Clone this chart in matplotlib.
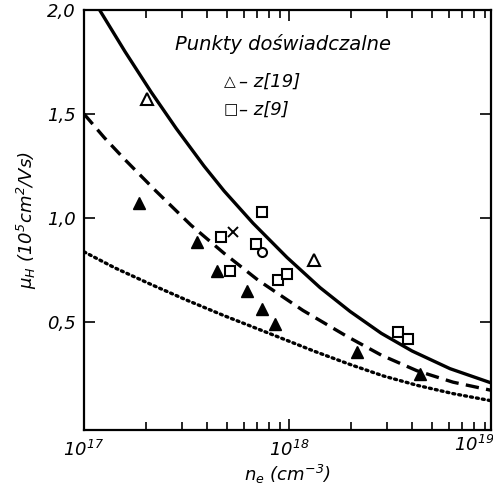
import numpy as np
import matplotlib
matplotlib.use("Agg")
import matplotlib.pyplot as plt
from matplotlib.ticker import FixedLocator, FuncFormatter, LogLocator, NullFormatter

plt.rcParams["font.family"] = ["DejaVu Sans"]
plt.rcParams["font.style"] = "italic"
plt.rcParams["mathtext.fontset"] = "dejavusans"
plt.rcParams["mathtext.default"] = "it"

# ==== DANE ====
# krzywa ciągła (log10 n_e, mu_H)
solid_log = [17.04, 17.073, 17.2, 17.327, 17.45, 17.585, 17.683, 17.824, 17.99,
             18.151, 18.298, 18.45, 18.6, 18.785, 18.99]
solid_mu = [2.06, 2.005, 1.80, 1.606, 1.43, 1.25, 1.13, 0.975, 0.81,
            0.665, 0.55, 0.445, 0.36, 0.275, 0.205]
# krzywa przerywana
dash_log = [17.0, 17.1, 17.2, 17.35, 17.522, 17.683, 17.85, 18.068, 18.283,
            18.45, 18.624, 18.8, 18.99]
dash_mu = [1.50, 1.385, 1.28, 1.13, 0.965, 0.83, 0.70, 0.555, 0.43,
           0.34, 0.265, 0.21, 0.17]
# krzywa kropkowana
dot_log = [17.0, 17.15, 17.327, 17.5, 17.683, 17.941, 18.12, 18.298, 18.46,
           18.624, 18.8, 18.99]
dot_mu = [0.837, 0.76, 0.68, 0.605, 0.53, 0.43, 0.36, 0.295, 0.24,
          0.195, 0.155, 0.12]

# punkty doświadczalne
tri_open_n = [2.04e17, 1.32e18]
tri_open_mu = [1.57, 0.80]
sq_n = [4.68e17, 5.13e17, 6.9e17, 7.4e17, 8.8e17, 9.8e17, 3.4e18, 3.8e18]
sq_mu = [0.91, 0.745, 0.875, 1.03, 0.70, 0.73, 0.45, 0.42]
circ_n = [7.4e17]
circ_mu = [0.835]
x_n = [5.33e17]
x_mu = [0.93]
tri_fill_n = [1.86e17, 3.55e17, 4.47e17, 6.24e17, 7.41e17, 8.51e17, 2.14e18, 4.37e18]
tri_fill_mu = [1.07, 0.885, 0.745, 0.65, 0.56, 0.49, 0.355, 0.25]

yticks = [0.5, 1.0, 1.5, 2.0]

W, H = 493, 498
fig = plt.figure(figsize=(W / 100, H / 100), dpi=100)
ax = fig.add_axes([84 / W, 1 - 430 / H, 407 / W, 420 / H])

ax.plot(10 ** np.array(solid_log), solid_mu, color="black", lw=2.4)
ax.plot(10 ** np.array(dash_log), dash_mu, color="black", lw=2.4, dashes=(4, 2.2))
ax.plot(10 ** np.array(dot_log), dot_mu, color="black", lw=2.4, dashes=(0.6, 1.2),
        dash_capstyle="round")

ax.plot(tri_fill_n, tri_fill_mu, "^", color="black", ms=9, ls="none")
ax.plot(tri_open_n, tri_open_mu, "^", mfc="white", mec="black", mew=1.5, ms=8.5, ls="none")
ax.plot(sq_n, sq_mu, "s", mfc="white", mec="black", mew=1.5, ms=6.5, ls="none")
ax.plot(circ_n, circ_mu, "o", mfc="white", mec="black", mew=1.5, ms=6.5, ls="none")
ax.plot(x_n, x_mu, "x", color="black", mew=1.4, ms=7, ls="none")

ax.set_xscale("log")
ax.set_xlim(1e17, 10**18.985)
ax.set_ylim(-0.02, 2.0)

ax.xaxis.set_major_locator(FixedLocator([1e17, 1e18]))
ax.xaxis.set_minor_locator(LogLocator(base=10, subs=np.arange(2, 10)))
ax.xaxis.set_minor_formatter(NullFormatter())
ax.xaxis.set_major_formatter(FuncFormatter(lambda v, p: r"$10^{%d}$" % round(np.log10(v))))
ax.set_yticks(yticks)
ax.yaxis.set_major_formatter(FuncFormatter(lambda v, p: ("%.1f" % v).replace(".", ",")))

ax.tick_params(which="both", direction="in", top=True, right=True, width=1.2)
ax.tick_params(which="major", length=8)
ax.tick_params(which="minor", length=6)
ax.tick_params(axis="x", which="major", pad=7, labelsize=13)
ax.tick_params(axis="y", which="major", pad=6, labelsize=13)
for s in ax.spines.values():
    s.set_linewidth(1.6)

ax.text(1e19, -0.045, r"$10^{19}$", ha="right", va="top", fontsize=13, clip_on=False)

ax.set_xlabel(r"$n_e\ (cm^{-3})$", fontsize=13, labelpad=2)
ax.set_ylabel(r"$\mu_H\ (10^5 cm^2/Vs)$", fontsize=13, labelpad=6)

# opis punktów doświadczalnych
fig.text(175 / W, 1 - 44 / H, "Punkty doświadczalne", fontsize=14, va="center")
fig.text(224 / W, 1 - 82 / H, "△", fontsize=11, va="center", fontstyle="normal")
fig.text(239 / W, 1 - 82 / H, "– z[19]", fontsize=13, va="center")
fig.text(224 / W, 1 - 110 / H, "□", fontsize=11, va="center", fontstyle="normal")
fig.text(239 / W, 1 - 110 / H, "– z[9]", fontsize=13, va="center")

fig.savefig("out.png", dpi=100)
